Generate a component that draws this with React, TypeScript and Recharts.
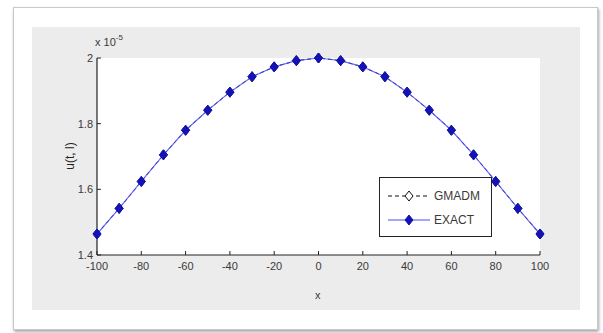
import React from 'react'
import { LineChart, Line, XAxis, YAxis, CartesianGrid, Legend } from 'recharts'

const xValues = [-100, -90, -80, -70, -60, -50, -40, -30, -20, -10, 0, 10, 20, 30, 40, 50, 60, 70, 80, 90, 100]
const gmadm = [1.464, 1.542, 1.624, 1.705, 1.780, 1.841, 1.896, 1.943, 1.973, 1.992, 2.0, 1.992, 1.973, 1.943, 1.896, 1.841, 1.780, 1.705, 1.624, 1.542, 1.464]
const exact = [1.464, 1.542, 1.624, 1.705, 1.780, 1.841, 1.896, 1.943, 1.973, 1.992, 2.0, 1.992, 1.973, 1.943, 1.896, 1.841, 1.780, 1.705, 1.624, 1.542, 1.464]
const xTicks = [-100, -80, -60, -40, -20, 0, 20, 40, 60, 80, 100]
const yTicks = [1.4, 1.6, 1.8, 2]

const FONT = '"Liberation Sans", Arial, sans-serif'
const TEXT = '#3a3a3a'
const BLUE_LINE = '#4b4bff'
const BLUE_MARK = '#1212b8'

const chartData = xValues.map((x, i) => ({ x, gmadm: gmadm[i], exact: exact[i] }))

const OpenDiamond = (props: any) => {
  const { cx, cy, index } = props
  if (cx == null || cy == null) return <g key={`g-${index}`} />
  return (
    <path
      key={`g-${index}`}
      d={`M${cx},${cy - 5} L${cx + 4},${cy} L${cx},${cy + 5} L${cx - 4},${cy} Z`}
      fill="none"
      stroke="#111"
      strokeWidth={1}
    />
  )
}

const FilledDiamond = (props: any) => {
  const { cx, cy, index } = props
  if (cx == null || cy == null) return <g key={`e-${index}`} />
  return (
    <path
      key={`e-${index}`}
      d={`M${cx},${cy - 5} L${cx + 4},${cy} L${cx},${cy + 5} L${cx - 4},${cy} Z`}
      fill={BLUE_MARK}
      stroke={BLUE_MARK}
      strokeWidth={1}
    />
  )
}

const renderLegend = () => {
  const rows = [
    { name: 'GMADM', color: '#111', dash: '4 3', filled: false },
    { name: 'EXACT', color: BLUE_LINE, dash: undefined, filled: true },
  ]
  return (
    <div
      style={{
        width: 113,
        height: 60,
        border: '1px solid #222',
        background: '#fff',
        boxSizing: 'border-box',
        padding: '6px 0 0 6px',
        fontFamily: FONT,
        fontSize: 12,
        color: TEXT,
      }}
    >
      {rows.map((r) => (
        <div key={r.name} style={{ display: 'flex', alignItems: 'center', height: 24 }}>
          <svg width={46} height={14}>
            <line x1={2} y1={7} x2={44} y2={7} stroke={r.color} strokeWidth={1.2} strokeDasharray={r.dash} />
            <path
              d="M23,2 L27,7 L23,12 L19,7 Z"
              fill={r.filled ? BLUE_MARK : '#fff'}
              stroke={r.filled ? BLUE_MARK : '#111'}
            />
          </svg>
          <span style={{ marginLeft: 2 }}>{r.name}</span>
        </div>
      ))}
    </div>
  )
}

export default function App() {
  return (
    <div style={{ position: 'absolute', left: 0, top: 0, width: 603, height: 333, background: '#fff', overflow: 'hidden' }}>
      <div
        style={{
          position: 'absolute',
          left: 13,
          top: 7,
          width: 585,
          height: 323,
          background: '#fff',
          border: '1px solid #c8c8c8',
          boxShadow: '1px 2px 3px rgba(0,0,0,0.35)',
          boxSizing: 'border-box',
        }}
      />
      <div style={{ position: 'absolute', left: 32, top: 27, width: 548, height: 283, background: '#ececec' }} />
      <div style={{ position: 'absolute', left: 0, top: 0 }}>
        <LineChart width={603} height={333} data={chartData} margin={{ top: 58, right: 63, bottom: 48, left: 57 }}>
          <CartesianGrid stroke="none" fill="#fff" />
          <XAxis
            xAxisId="bottom"
            dataKey="x"
            type="number"
            domain={[-100, 100]}
            ticks={xTicks}
            interval={0}
            tickSize={-4}
            tickMargin={11}
            height={30}
            axisLine={{ stroke: '#222', strokeWidth: 1.2 }}
            tickLine={{ stroke: '#222' }}
            tick={{ fill: TEXT, fontSize: 11, fontFamily: FONT }}
          />
          <XAxis
            xAxisId="top"
            orientation="top"
            dataKey="x"
            type="number"
            domain={[-100, 100]}
            ticks={xTicks}
            interval={0}
            tickSize={-4}
            height={0}
            tickFormatter={() => ''}
            axisLine={{ stroke: '#222', strokeWidth: 1.2 }}
            tickLine={{ stroke: '#222' }}
          />
          <YAxis
            yAxisId="left"
            type="number"
            domain={[1.4, 2]}
            ticks={yTicks}
            interval={0}
            tickSize={-4}
            tickMargin={8}
            width={40}
            tickFormatter={(v: number) => String(Number(v.toFixed(1)))}
            axisLine={{ stroke: '#222', strokeWidth: 1.2 }}
            tickLine={{ stroke: '#222' }}
            tick={{ fill: TEXT, fontSize: 11, fontFamily: FONT }}
          />
          <YAxis
            yAxisId="right"
            orientation="right"
            type="number"
            domain={[1.4, 2]}
            ticks={yTicks}
            interval={0}
            tickSize={-4}
            width={0}
            tickFormatter={() => ''}
            axisLine={{ stroke: '#222', strokeWidth: 1.2 }}
            tickLine={{ stroke: '#222' }}
          />
          <Line
            xAxisId="bottom"
            yAxisId="left"
            dataKey="gmadm"
            name="GMADM"
            stroke="#111"
            strokeWidth={1}
            strokeDasharray="4 3"
            dot={OpenDiamond}
            activeDot={false}
            isAnimationActive={false}
          />
          <Line
            xAxisId="bottom"
            yAxisId="left"
            dataKey="exact"
            name="EXACT"
            stroke={BLUE_LINE}
            strokeWidth={1.2}
            strokeOpacity={0.8}
            dot={FilledDiamond}
            activeDot={false}
            isAnimationActive={false}
          />
          <Legend
            layout="vertical"
            align="center"
            verticalAlign="middle"
            content={renderLegend}
            wrapperStyle={{ position: 'absolute', left: 379, top: 177, width: 113, height: 60 }}
          />
        </LineChart>
      </div>
      <div style={{ position: 'absolute', left: 95, top: 34, fontFamily: FONT, fontSize: 11, color: TEXT }}>
        x 10<sup style={{ fontSize: 8, position: 'relative', top: -1 }}>-5</sup>
      </div>
      <div
        style={{
          position: 'absolute',
          left: 70,
          top: 156,
          transform: 'translate(-50%, -50%) rotate(-90deg)',
          fontFamily: FONT,
          fontSize: 12,
          color: '#222',
          whiteSpace: 'nowrap',
        }}
      >
        u(t, l)
      </div>
      <div style={{ position: 'absolute', left: 315, top: 289, fontFamily: FONT, fontSize: 11, color: TEXT }}>x</div>
    </div>
  )
}
